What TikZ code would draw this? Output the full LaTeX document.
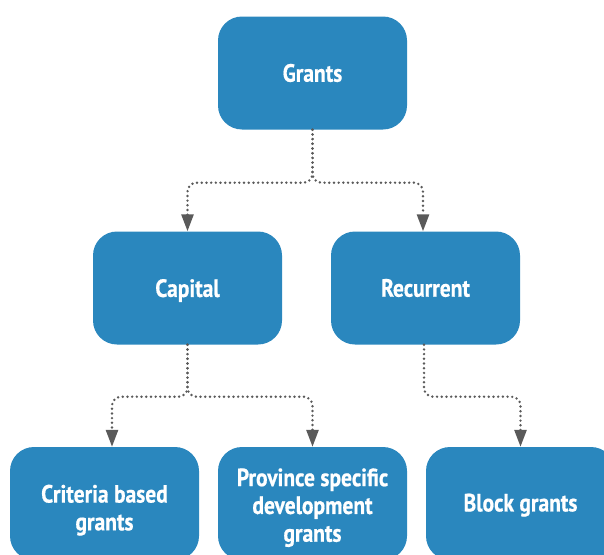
\documentclass[tikz,border=0pt]{standalone}
\usepackage{fontspec}
\setmainfont{PT Sans}[FakeStretch=0.86, BoldFeatures={FakeBold=0.6}]
\usetikzlibrary{arrows.meta,calc}
\definecolor{boxblue}{RGB}{42,135,190}
\definecolor{lnkgray}{RGB}{90,90,90}
\tikzset{
  gbox/.style={rectangle, rounded corners=24pt, minimum width=189pt, minimum height=113pt,
    fill=boxblue, draw=none, inner sep=0pt},
  gtxt/.style={text=white, align=center, inner sep=0pt,
    font=\bfseries\fontsize{25}{27.8}\selectfont},
  link/.style={draw=lnkgray, line width=2.7pt, line cap=round, dash pattern=on 0pt off 4.7pt,
    rounded corners=9pt, -{Triangle[width=12pt,length=17pt,fill=lnkgray]}},
}
\begin{document}
\begin{tikzpicture}[x=1pt,y=-1pt]
\useasboundingbox (0,0) rectangle (604,554);
\clip (0,0) rectangle (604,554);
\node[gbox, label={[gtxt]center:{Grants}}] (grants) at (312.5,73) {};
\node[gbox, label={[gtxt, yshift=-2.5pt]center:{Capital}}] (capital) at (187.5,288) {};
\node[gbox, label={[gtxt]center:{Recurrent}}] (recurrent) at (425.5,288) {};
\node[gbox, label={[gtxt, yshift=-6.7pt]center:{Criteria based\\grants}}] (criteria) at (104.5,503.5) {};
\node[gbox, label={[gtxt, yshift=-4.2pt]center:{Province specific\\development\\grants}}] (province) at (312.5,503.5) {};
\node[gbox, label={[gtxt, yshift=-1.7pt]center:{Block grants}}] (block) at (520.5,503.5) {};
\coordinate (critin) at ($(criteria.north)+(7.5,0)$);
\coordinate (recin) at ($(recurrent.north)+(-2.5,0)$);
\coordinate (recout) at ($(recurrent.south)+(-1.5,0)$);
\path[link] (grants.south) -- ++(0,53) -| (capital.north);
\path[link] (grants.south) -- ++(0,53) -| (recin);
\path[link] (capital.south) -- ++(0,52) -| (critin);
\path[link] (capital.south) -- ++(0,52) -| (province.north);
\path[link] (recout) -- ++(0,52) -| (block.north);
\end{tikzpicture}
\end{document}
